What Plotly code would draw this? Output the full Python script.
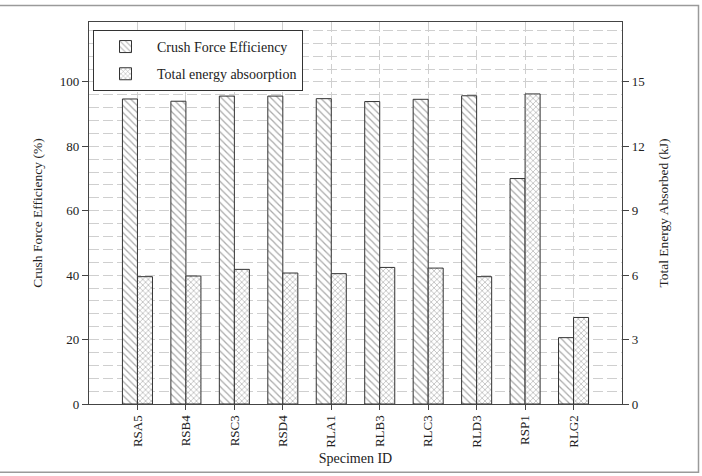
import plotly.graph_objects as go

specimens = ["RSA5", "RSB4", "RSC3", "RSD4", "RLA1", "RLB3", "RLC3", "RLD3", "RSP1", "RLG2"]
crush_force_eff = [94.7, 94.0, 95.6, 95.6, 94.8, 93.9, 94.6, 95.7, 70.0, 20.6]
energy_absorbed = [5.93, 5.96, 6.27, 6.10, 6.07, 6.36, 6.33, 5.93, 14.44, 4.03]

W, H = 702, 476
ml, mr, mt, mb = 89, 80, 22, 70
pw, ph = W - ml - mr, H - mt - mb

def px_x(p):
    return (p - ml) / pw

def px_y(p):
    return (H - mb - p) / ph

FONT = "Liberation Serif, Times New Roman, serif"
AX = "#444444"
GRID = "#cfcfcf"
DASH = "10px,4px"
BAR_W = 0.31

fig = go.Figure()
fig.add_trace(go.Bar(
    x=list(range(len(specimens))), y=crush_force_eff, name="Crush Force Efficiency",
    width=BAR_W, offset=-BAR_W, legendgroup="a",
    marker=dict(color="white", line=dict(color="#333333", width=1),
                pattern=dict(shape="\\", fgcolor="#555555", bgcolor="white", size=5, solidity=0.25)),
    yaxis="y",
))
fig.add_trace(go.Bar(
    x=list(range(len(specimens))), y=energy_absorbed, name="Total energy absoorption",
    width=BAR_W, offset=0, legendgroup="b",
    marker=dict(color="white", line=dict(color="#333333", width=1),
                pattern=dict(shape="x", fgcolor="#555555", bgcolor="white", size=4, solidity=0.3)),
    yaxis="y2",
))

fig.update_layout(
    width=W, height=H,
    margin=dict(l=ml, r=mr, t=mt, b=mb),
    paper_bgcolor="white", plot_bgcolor="white",
    font=dict(family=FONT, size=13, color="#222222"),
    barmode="overlay",
    xaxis=dict(
        range=[-1, 10], tickmode="array", tickvals=list(range(len(specimens))), ticktext=specimens,
        tickangle=-90, ticks="outside", ticklen=5, tickcolor=AX,
        showline=True, linecolor=AX, linewidth=1.2, mirror=True,
        showgrid=True, gridcolor=GRID, griddash=DASH, gridwidth=1,
        zeroline=False,
        title=dict(text="Specimen ID", font=dict(size=14), standoff=6),
        tickfont=dict(size=13),
    ),
    yaxis=dict(
        range=[0, 118.6], tickmode="array", tickvals=[0, 20, 40, 60, 80, 100],
        ticks="outside", ticklen=6, tickcolor=AX,
        showline=True, linecolor=AX, linewidth=1.2,
        showgrid=False, zeroline=False,
        title=dict(text="Crush Force Efficiency (%)", font=dict(size=13.5), standoff=14),
        tickfont=dict(size=13),
        minor=dict(dtick=4, tick0=0, showgrid=True, gridcolor=GRID, griddash=DASH, gridwidth=1),
    ),
    yaxis2=dict(
        range=[0, 118.6 * 0.15], overlaying="y", side="right",
        tickmode="array", tickvals=[0, 3, 6, 9, 12, 15],
        ticks="outside", ticklen=6, tickcolor=AX,
        showline=True, linecolor=AX, linewidth=1.2,
        showgrid=False, zeroline=False,
        title=dict(text="Total Energy Absorbed (kJ)", font=dict(size=13.5), standoff=14),
        tickfont=dict(size=13),
    ),
    legend=dict(
        x=px_x(93), y=px_y(30), xanchor="left", yanchor="top",
        bgcolor="white", bordercolor="#333333", borderwidth=1,
        font=dict(size=14, family=FONT), tracegroupgap=6,
        traceorder="grouped", itemwidth=53,
    ),
    shapes=[dict(
        type="rect", xref="paper", yref="paper",
        x0=px_x(-3), x1=px_x(698.5), y0=px_y(474.5), y1=px_y(5.5),
        line=dict(color="#9a9a9a", width=1.5), fillcolor="rgba(0,0,0,0)", layer="below",
    )],
)

fig.write_html("out.html")
